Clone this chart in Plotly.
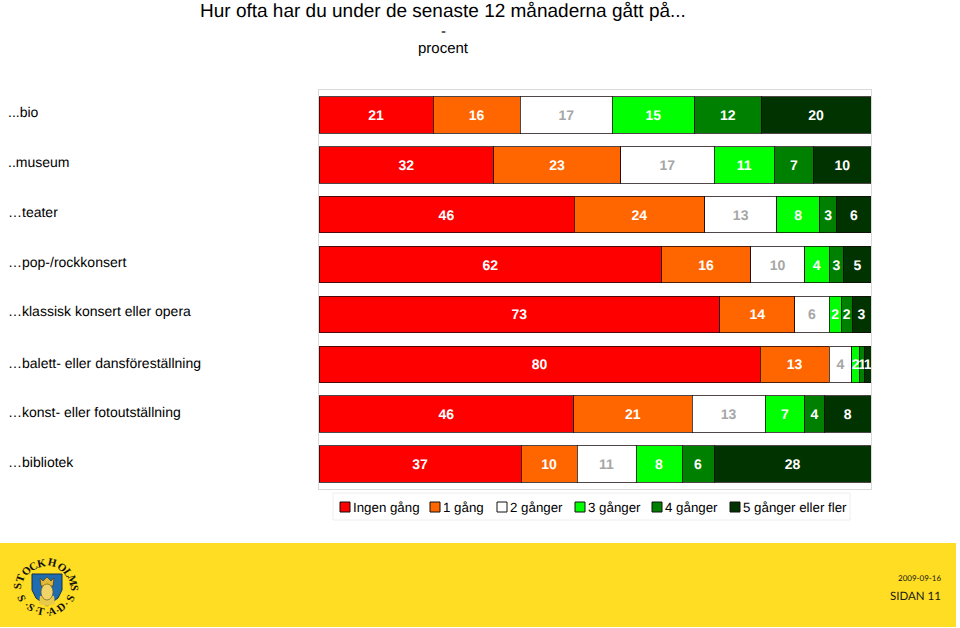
import math
import plotly.graph_objects as go

W, H = 960, 628
L, R, T, B = 319, 871, 90, 489

categories = ["...bio", "..museum", "…teater", "…pop-/rockkonsert",
              "…klassisk konsert eller opera", "…balett- eller dansföreställning",
              "…konst- eller fotoutställning", "…bibliotek"]
label_offsets = [-3, -3, -3, -3, -3, -1, -2, -2]
series_names = ["Ingen gång", "1 gång", "2 gånger", "3 gånger", "4 gånger", "5 gånger eller fler"]
series_colors = ["#FF0000", "#FF6600", "#FFFFFF", "#00FF00", "#008000", "#003300"]
text_colors = ["#FFFFFF", "#FFFFFF", "#A6A6A6", "#FFFFFF", "#FFFFFF", "#FFFFFF"]

ingen = [20.7, 31.6, 46.2, 62.0, 72.6, 80.1, 46.0, 36.6]
en = [15.8, 23.0, 23.7, 16.1, 13.6, 12.5, 21.4, 10.1]
tva = [16.7, 16.9, 13.0, 9.8, 6.2, 4.1, 13.2, 10.7]
tre = [14.9, 10.9, 7.8, 4.4, 2.2, 1.5, 7.1, 8.3]
fyra = [12.1, 7.1, 3.1, 2.7, 2.0, 0.8, 3.6, 5.8]
fem = [19.9, 10.4, 6.2, 4.9, 3.4, 1.2, 8.4, 28.4]
series_values = [ingen, en, tva, tre, fyra, fem]

legend_x = [340, 430, 497, 575, 652, 730]
footer_date = "2009-09-16"
footer_page = "SIDAN 11"
FONT = "Liberation Sans, Arial, sans-serif"
SERIF = "Liberation Serif, serif"


def px(x):
    return (x - L) / (R - L)


def py(y):
    return (B - y) / (B - T)


fig = go.Figure()
for name, vals, col, tcol in zip(series_names, series_values, series_colors, text_colors):
    fig.add_trace(go.Bar(
        y=categories, x=vals, name=name, orientation="h",
        marker=dict(color=col, line=dict(color="rgba(20,10,10,0.75)", width=1)),
        texttemplate="%{x:.0f}", textposition="inside", insidetextanchor="middle",
        textangle=0, constraintext="none", cliponaxis=False,
        textfont=dict(family=FONT, size=14, color=tcol, weight="bold"),
        showlegend=False,
    ))

shapes, ann = [], []


def rect(x0, y0, x1, y1, fill, line=None, lw=0):
    shapes.append(dict(type="rect", xref="paper", yref="paper", x0=px(x0), x1=px(x1),
                       y0=py(y0), y1=py(y1), fillcolor=fill, layer="below",
                       line=dict(color=line or fill, width=lw)))


def poly(pts, fill, line=None, lw=0):
    path = "M " + " L ".join(f"{px(a)},{py(b)}" for a, b in pts) + " Z"
    shapes.append(dict(type="path", xref="paper", yref="paper", path=path, fillcolor=fill,
                       line=dict(color=line or fill, width=lw), layer="below"))


def text(x, y, s, size, color="#000000", anchor="left", angle=0, family=FONT, weight="normal"):
    ann.append(dict(xref="paper", yref="paper", x=px(x), y=py(y), text=s, showarrow=False,
                    xanchor=anchor, yanchor="middle", textangle=angle,
                    font=dict(family=family, size=size, color=color, weight=weight),
                    borderpad=0, borderwidth=0))


# titles
text(443, 10, "Hur ofta har du under de senaste 12 månaderna gått på...", 19, "#000000", "center")
text(443, 30, "-", 15, "#000000", "center")
text(443, 48, "procent", 15, "#000000", "center")

# category labels
for cat, off in zip(categories, label_offsets):
    ann.append(dict(xref="paper", yref="y", x=px(6), y=cat, yshift=-off, text=cat, showarrow=False,
                    xanchor="left", yanchor="middle",
                    font=dict(family=FONT, size=14, color="#000000")))

# legend
rect(333, 493, 850, 520, "#FFFFFF", "#EEEEEE", 1)
for name, col, x in zip(series_names, series_colors, legend_x):
    rect(x, 502, x + 10, 512, col, "#111111", 1)
    text(x + 13, 507.5, name, 13.3)

# footer band
rect(0, 543, 956, 627, "#FFDD22")
text(941, 578, footer_date, 8, "#1A1A1A", "right", family="Lato, Liberation Sans")
text(941, 595, footer_page, 11.5, "#1A1A1A", "right", family="Lato, Liberation Sans")

# city emblem
cx, cy, rad = 46, 587, 27
poly([(32, 574), (62, 574), (62, 590), (58, 598), (47, 606), (36, 598), (32, 590)],
     "#1F6DB0", "#10304A", 1)
# crown, head, shoulders
poly([(40, 578), (43, 581), (47, 577), (51, 581), (54, 578), (53, 586), (41, 586)],
     "#E0B93A", "#4A3A10", 0.7)
poly([(39, 604), (40, 596), (54, 596), (55, 604), (47, 606)], "#E8C94A")
shapes.append(dict(type="circle", xref="paper", yref="paper", x0=px(41), x1=px(53), y0=py(584), y1=py(600),
                   fillcolor="#F0D46A", line=dict(color="#5A4A10", width=0.6), layer="below"))
letters = [("S", 17, 586), ("T", 20, 578), ("O", 26, 571), ("C", 33, 566), ("K", 41, 563),
           ("H", 52, 562), ("O", 62, 567), ("L", 68, 572), ("M", 73, 580), ("S", 75, 588),
           ("S", 70, 598), ("D", 61, 607), ("A", 52, 611), ("T", 41, 611), ("S", 31, 607),
           ("S", 22, 598)]
for ch, x, y in letters:
    deg = math.degrees(math.atan2(y - cy, x - cx)) % 360
    rot = deg + 90 if 170 < deg < 360 or deg < 5 else deg - 90
    text(x, y, ch, 11, "#111111", "center", rot, SERIF, "bold")
for x, y in [(26, 604), (36, 610), (47, 612), (57, 610), (66, 603)]:
    text(x, y, "·", 10, "#111111", "center", 0, SERIF, "bold")

fig.update_layout(
    width=W, height=H, barmode="stack", barnorm="percent", bargap=0.27,
    margin=dict(l=L, r=W - R, t=T, b=H - B, pad=0),
    paper_bgcolor="#FFFFFF", plot_bgcolor="#FFFFFF",
    xaxis=dict(range=[0, 100], showticklabels=False, ticks="", showgrid=False, zeroline=False,
               showline=True, mirror=True, linecolor="#D9D9D9", linewidth=1),
    yaxis=dict(autorange="reversed", showticklabels=False, ticks="", showgrid=False, zeroline=False,
               showline=True, mirror=True, linecolor="#D9D9D9", linewidth=1),
    shapes=shapes, annotations=ann, font=dict(family=FONT),
)
fig.write_html("out.html", post_script=(
    "document.body.style.margin='0';document.body.style.overflow='hidden';"
    "document.querySelectorAll('text').forEach(function(t){t.style.textRendering='geometricPrecision';});"),
    config={"displayModeBar": False})
